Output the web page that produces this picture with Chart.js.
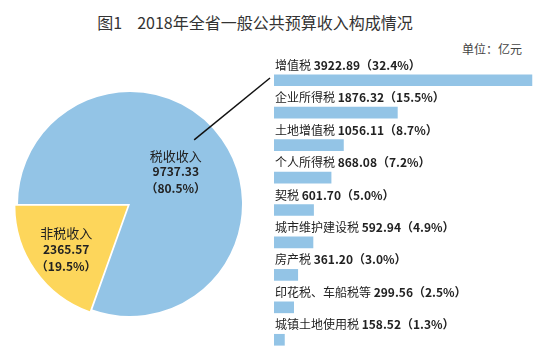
<!DOCTYPE html>
<html>
<head>
<meta charset="utf-8">
<script src="https://cdn.jsdelivr.net/npm/chart.js@4"></script>
<style>
  html, body { margin: 0; padding: 0; background: #fff; overflow: hidden; }
  body { width: 550px; height: 352px; position: relative; font-family: "Noto Sans CJK SC", sans-serif; }
  #title { position: absolute; left: 0; width: 510px; top: 10px; text-align: center; font-size: 16px; color: #333; }
  #unit { position: absolute; left: 462px; top: 40px; font-size: 12px; color: #444; }
  #pieBox { position: absolute; left: 0; top: 0; width: 272px; height: 352px; }
  #barBox { position: absolute; left: 265px; top: 0; width: 285px; height: 360px; }
</style>
</head>
<body>
<div id="title">图1<span style="display:inline-block;width:15px"></span>2018年全省一般公共预算收入构成情况</div>
<div id="unit">单位：亿元</div>
<div id="pieBox"><canvas id="shouru"></canvas></div>
<div id="barBox"><canvas id="shuizhong"></canvas></div>
<script>
const pieLabels = ["税收收入", "非税收入"];
const pieValues = [9737.33, 2365.57];
const pieShares = ["80.5%", "19.5%"];

const taxNames = ["增值税", "企业所得税", "土地增值税", "个人所得税", "契税", "城市维护建设税", "房产税", "印花税、车船税等", "城镇土地使用税"];
const taxValues = [3922.89, 1876.32, 1056.11, 868.08, 601.70, 592.94, 361.20, 299.56, 158.52];
const taxShares = ["32.4%", "15.5%", "8.7%", "7.2%", "5.0%", "4.9%", "3.0%", "2.5%", "1.3%"];

const biru = "#93C4E6";
const kuning = "#FDD65B";
const fontCJK = '"Noto Sans CJK SC", sans-serif';

Chart.defaults.font.family = fontCJK;

// label teks di dalam pie + garis penghubung ke bar pertama
const pieText = {
  id: "pieText",
  afterDatasetsDraw(chart) {
    const ctx = chart.ctx;
    const arcs = chart.getDatasetMeta(0).data;
    const jarak = [0.5, 0.59];
    ctx.save();
    ctx.fillStyle = "#222";
    ctx.textAlign = "center";
    ctx.textBaseline = "middle";
    arcs.forEach((arc, i) => {
      const mid = (arc.startAngle + arc.endAngle) / 2;
      const r = arc.outerRadius * jarak[i] + (arc.options.offset || 0);
      const cx = arc.x + Math.cos(mid) * r;
      const cy = arc.y + Math.sin(mid) * r;
      ctx.font = "13px " + fontCJK;
      ctx.fillText(pieLabels[i], cx, cy - 16);
      ctx.font = "bold 12px " + fontCJK;
      ctx.fillText(pieValues[i].toFixed(2), cx, cy);
      ctx.fillText("（" + pieShares[i] + "）", cx, cy + 17);
    });
    const a = arcs[0];
    const ang = -Math.PI / 4;
    ctx.beginPath();
    ctx.moveTo(a.x + Math.cos(ang) * a.outerRadius * 0.81, a.y + Math.sin(ang) * a.outerRadius * 0.81);
    ctx.lineTo(270, 78);
    ctx.strokeStyle = "#111";
    ctx.lineWidth = 1.5;
    ctx.stroke();
    ctx.restore();
  }
};

new Chart(document.getElementById("shouru"), {
  type: "pie",
  data: {
    labels: pieLabels,
    datasets: [{
      data: pieValues,
      backgroundColor: [biru, kuning],
      borderWidth: 0,
      offset: [0, 12],
    }],
  },
  options: {
    responsive: true,
    maintainAspectRatio: false,
    animation: false,
    rotation: -90,
    radius: 112,
    layout: { padding: { left: 0, right: 12, top: 56, bottom: 0 } },
    plugins: { legend: { display: false }, tooltip: { enabled: false } },
  },
  plugins: [pieText],
});

// nama pajak di atas tiap bar
const barText = {
  id: "barText",
  afterDatasetsDraw(chart) {
    const ctx = chart.ctx;
    const left = chart.chartArea.left + 1;
    ctx.save();
    ctx.textBaseline = "middle";
    ctx.fillStyle = "#222";
    chart.getDatasetMeta(0).data.forEach((bar, i) => {
      const y = bar.y - 15;
      ctx.font = "12px " + fontCJK;
      const nama = taxNames[i] + " ";
      ctx.fillText(nama, left, y);
      const w = ctx.measureText(nama).width;
      ctx.font = "bold 12px " + fontCJK;
      ctx.fillText(taxValues[i].toFixed(2) + "（" + taxShares[i] + "）", left + w, y);
    });
    ctx.restore();
  }
};

new Chart(document.getElementById("shuizhong"), {
  type: "bar",
  data: {
    labels: taxNames,
    datasets: [{
      data: taxValues,
      backgroundColor: biru,
      borderWidth: 0,
      barThickness: 11,
    }],
  },
  options: {
    indexAxis: "y",
    responsive: true,
    maintainAspectRatio: false,
    animation: false,
    layout: { padding: { left: 9, right: 13, top: 64, bottom: 4 } },
    scales: {
      x: { display: false, min: 0, max: 4000 },
      y: { display: false },
    },
    plugins: { legend: { display: false }, tooltip: { enabled: false } },
  },
  plugins: [barText],
});
</script>
</body>
</html>
